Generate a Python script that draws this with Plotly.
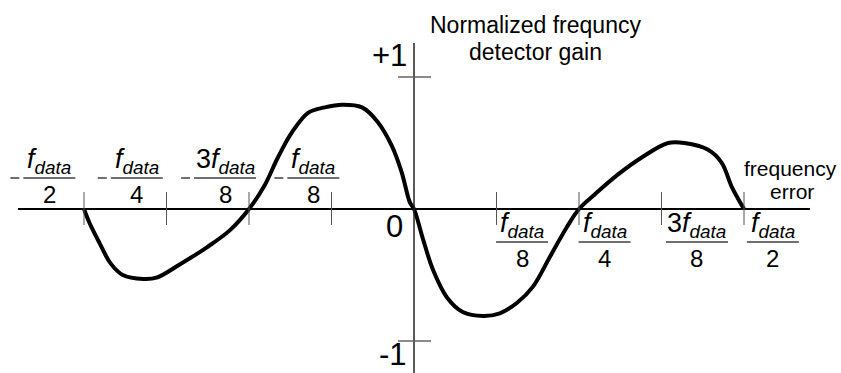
import plotly.graph_objects as go

# Normalized frequency-detector gain vs. frequency error
# (x is expressed in units of f_data/8, y is the normalized gain)
gain_x = [-4.0, -3.93, -3.81, -3.68, -3.53, -3.28, -3.12, -2.84, -2.51, -2.23,
          -2.0, -1.81, -1.65, -1.48, -1.28, -1.08, -0.87, -0.63, -0.44, -0.27,
          -0.15, -0.05, 0.0, 0.11, 0.23, 0.40, 0.59, 0.84, 1.04, 1.25,
          1.44, 1.65, 1.85, 2.0, 2.19, 2.47, 2.76, 3.08, 3.28, 3.56,
          3.73, 3.85, 4.0]
gain_y = [0.0, -0.11, -0.26, -0.41, -0.50, -0.53, -0.52, -0.42, -0.29, -0.16,
          0.0, 0.18, 0.39, 0.58, 0.73, 0.77, 0.79, 0.77, 0.66, 0.48,
          0.28, 0.05, 0.0, -0.23, -0.46, -0.67, -0.78, -0.81, -0.79, -0.71,
          -0.59, -0.36, -0.14, 0.0, 0.11, 0.26, 0.39, 0.50, 0.50, 0.45,
          0.35, 0.17, 0.0]

# x-axis tick marks and their fraction labels
tick_pos = [-4, -3, -2, -1, 1, 2, 3, 4]
tick_coef = ["", "", "3", "", "", "", "3", ""]
tick_den = ["2", "4", "8", "8", "8", "4", "8", "2"]
tick_neg = [True, True, True, True, False, False, False, False]

# y-axis marks
y_ticks = [1, -1]
y_tick_text = ["+1", "-1"]

title_lines = ["Normalized frequncy", "detector gain"]
x_title_lines = ["frequency", "error"]

FONT = "Liberation Sans, Arial, sans-serif"
PX_X, PX_Y = 82.5, 132.0       # pixels per axis unit
W, H = 841, 373
X0_PX, Y0_PX = 414, 209        # pixel position of the origin


def ux(px):
    return (px - X0_PX) / PX_X


def vy(py):
    return (Y0_PX - py) / PX_Y


fig = go.Figure()

fig.add_trace(go.Scatter(
    x=gain_x, y=gain_y, mode="lines",
    line=dict(color="black", width=4, shape="spline", smoothing=1.0),
    hoverinfo="skip", showlegend=False,
))

shapes = []
annotations = []

# horizontal (frequency error) axis
shapes.append(dict(type="line", xref="x", yref="y", x0=ux(18), x1=ux(810),
                   y0=0, y1=0, line=dict(color="black", width=2)))
# vertical (gain) axis
shapes.append(dict(type="line", xref="x", yref="y", x0=0, x1=0,
                   y0=vy(43), y1=vy(380), line=dict(color="#222", width=1.5)))

# gain marks at +1 / -1
for v, txt in zip(y_ticks, y_tick_text):
    shapes.append(dict(type="line", xref="x", yref="y", x0=ux(398), x1=ux(431),
                       y0=v, y1=v, line=dict(color="#666", width=1.5)))
    annotations.append(dict(x=ux(409), y=v + (0.16 if v > 0 else -0.1),
                            xref="x", yref="y", text=txt, showarrow=False,
                            xanchor="right", yanchor="middle",
                            font=dict(family=FONT, size=31, color="black")))

# origin label
annotations.append(dict(x=ux(405), y=vy(226), xref="x", yref="y", text="0",
                        showarrow=False, xanchor="right", yanchor="middle",
                        font=dict(family=FONT, size=31, color="black")))

# frequency ticks with fraction labels
label_shift = [-0.42, -0.36, -0.29, -0.22, 0.31, 0.31, 0.43, 0.35]
for p, coef, den, neg, sh in zip(tick_pos, tick_coef, tick_den, tick_neg, label_shift):
    shapes.append(dict(type="line", xref="x", yref="y", x0=p, x1=p,
                       y0=vy(192), y1=vy(225), line=dict(color="#555", width=1)))
    cx = p + sh
    bar_px = 31 if neg else -33           # bar offset above the axis, pixels
    half = 31 if coef else 26
    shapes.append(dict(type="line", xref="x", yref="y",
                       xsizemode="pixel", xanchor=cx, x0=-half, x1=half,
                       ysizemode="pixel", yanchor=0, y0=bar_px, y1=bar_px,
                       line=dict(color="#707070", width=2)))
    if neg:
        shapes.append(dict(type="line", xref="x", yref="y",
                           xsizemode="pixel", xanchor=cx, x0=-half - 13, x1=-half - 4,
                           ysizemode="pixel", yanchor=0, y0=bar_px, y1=bar_px,
                           line=dict(color="#707070", width=2)))
    annotations.append(dict(x=cx, y=0, xref="x", yref="y", yshift=bar_px - 2,
                            text=f"{coef}<i>f<sub>data</sub></i>", showarrow=False,
                            xanchor="center", yanchor="bottom",
                            font=dict(family=FONT, size=27, color="black")))
    annotations.append(dict(x=cx, y=0, xref="x", yref="y", yshift=bar_px - 1,
                            text=den, showarrow=False,
                            xanchor="center", yanchor="top",
                            font=dict(family=FONT, size=24, color="black")))

# axis titles
for txt, py in zip(title_lines, [25, 52]):
    annotations.append(dict(x=ux(535), y=vy(py), xref="x", yref="y", text=txt,
                            showarrow=False, xanchor="center", yanchor="middle",
                            font=dict(family=FONT, size=23, color="black")))
for txt, (px, py) in zip(x_title_lines, [(790, 168), (792, 191)]):
    annotations.append(dict(x=ux(px), y=vy(py), xref="x", yref="y", text=txt,
                            showarrow=False, xanchor="center", yanchor="middle",
                            font=dict(family=FONT, size=21, color="black")))

fig.update_layout(
    width=W, height=H, autosize=False,
    margin=dict(l=0, r=0, t=0, b=0),
    paper_bgcolor="white", plot_bgcolor="white",
    xaxis=dict(visible=False, range=[ux(0), ux(W)], fixedrange=True),
    yaxis=dict(visible=False, range=[vy(H), vy(0)], fixedrange=True),
    shapes=shapes, annotations=annotations, showlegend=False,
)

fig.write_html("out.html")
